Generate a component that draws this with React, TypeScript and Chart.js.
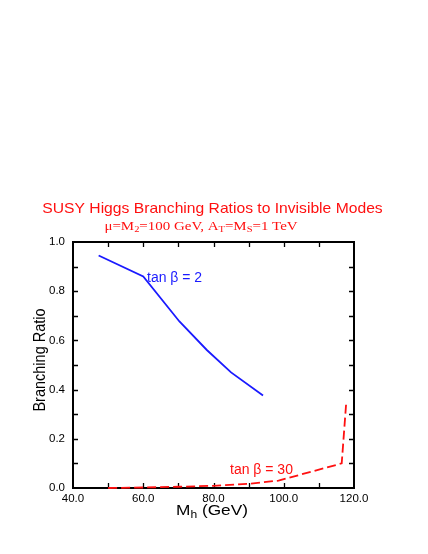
import React, { useEffect, useRef } from "react";
import { Chart, registerables } from "chart.js";

Chart.register(...registerables);

// ---- data ----
const blueMass = [47.3, 60.0, 70.3, 78.1, 85.0, 94.1];
const blueBR = [0.945, 0.86, 0.677, 0.561, 0.47, 0.376];
const redMass = [50, 60, 70, 80, 90, 98.5, 116.5, 117.8];
const redBR = [0.0, 0.002, 0.005, 0.009, 0.017, 0.03, 0.1, 0.35];

const xMin = 40, xMax = 120, xMajor = 20, xMinor = 10;
const yMin = 0, yMax = 1, yMajor = 0.2, yMinor = 0.1;

const titleText = "SUSY Higgs Branching Ratios to Invisible Modes";
const subtitleParts = [
  { t: "\u03bc=M" }, { t: "2", sub: true }, { t: "=100 GeV, A" }, { t: "T", sub: true },
  { t: "=M" }, { t: "S", sub: true }, { t: "=1 TeV" },
];
const xTitleParts = [{ t: "M" }, { t: "h", sub: true }, { t: " (GeV)" }];
const yTitle = "Branching Ratio";
const blueLabel = "tan \u03b2 = 2";
const redLabel = "tan \u03b2 = 30";

const RED = "#ff1010";
const BLUE = "#1a1aff";
const SANS = "'Liberation Sans', Arial, sans-serif";
const SERIF = "'Liberation Serif', 'Times New Roman', serif";

type Part = { t: string; sub?: boolean };

function drawRich(
  ctx: CanvasRenderingContext2D,
  parts: Part[],
  x: number,
  y: number,
  o: { size: number; family: string; color: string; sx?: number; align?: "left" | "center" }
) {
  ctx.save();
  ctx.translate(x, y);
  ctx.scale(o.sx ?? 1, 1);
  ctx.fillStyle = o.color;
  ctx.textBaseline = "alphabetic";
  ctx.textAlign = "left";
  const fontFor = (p: Part) => `${p.sub ? o.size * 0.7 : o.size}px ${o.family}`;
  let total = 0;
  for (const p of parts) {
    ctx.font = fontFor(p);
    total += ctx.measureText(p.t).width;
  }
  let cx = o.align === "center" ? -total / 2 : 0;
  for (const p of parts) {
    ctx.font = fontFor(p);
    ctx.fillText(p.t, cx, p.sub ? o.size * 0.22 : 0);
    cx += ctx.measureText(p.t).width;
  }
  ctx.restore();
}

const framePlugin = {
  id: "frameTicks",
  beforeDatasetsDraw(chart: any) {
    const { ctx, chartArea: a, scales } = chart;
    const xs = scales.x, ys = scales.y;
    ctx.save();
    ctx.strokeStyle = "#000";
    ctx.lineWidth = 2;
    ctx.strokeRect(a.left, a.top, a.right - a.left, a.bottom - a.top);
    ctx.lineWidth = 1.3;
    const len = 5;
    ctx.beginPath();
    for (let v = xMin + xMinor; v < xMax - 1e-9; v += xMinor) {
      const px = Math.round(xs.getPixelForValue(v)) + 0.5;
      ctx.moveTo(px, a.bottom); ctx.lineTo(px, a.bottom - len);
      ctx.moveTo(px, a.top); ctx.lineTo(px, a.top + len);
    }
    for (let v = yMin + yMinor; v < yMax - 1e-9; v += yMinor) {
      const py = Math.round(ys.getPixelForValue(v)) + 0.5;
      ctx.moveTo(a.left, py); ctx.lineTo(a.left + len, py);
      ctx.moveTo(a.right, py); ctx.lineTo(a.right - len, py);
    }
    ctx.stroke();
    ctx.restore();
  },
  afterDraw(chart: any) {
    const { ctx } = chart;
    // titles
    drawRich(ctx, [{ t: titleText }], 212.5, 212.5, { size: 14.5, family: SANS, color: RED, sx: 1.08, align: "center" });
    drawRich(ctx, subtitleParts, 201, 229.5, { size: 13, family: SERIF, color: RED, sx: 1.15, align: "center" });
    // axis titles
    drawRich(ctx, xTitleParts, 212, 515, { size: 15, family: SANS, color: "#000", sx: 1.15, align: "center" });
    ctx.save();
    ctx.translate(45, 360);
    ctx.rotate(-Math.PI / 2);
    ctx.scale(1, 1.2);
    ctx.font = `14.5px ${SANS}`;
    ctx.fillStyle = "#000";
    ctx.textAlign = "center";
    ctx.textBaseline = "alphabetic";
    ctx.fillText(yTitle, 0, 0);
    ctx.restore();
    // series labels
    drawRich(ctx, [{ t: blueLabel }], 147, 281.5, { size: 14, family: SANS, color: BLUE, sx: 1.0 });
    drawRich(ctx, [{ t: redLabel }], 230, 473.5, { size: 14, family: SANS, color: RED, sx: 1.0 });
  },
};

export default function App() {
  const ref = useRef<HTMLCanvasElement | null>(null);
  useEffect(() => {
    if (!ref.current) return;
    const chart = new Chart(ref.current, {
      type: "line",
      data: {
        datasets: [
          {
            data: blueMass.map((m, i) => ({ x: m, y: blueBR[i] })),
            borderColor: BLUE,
            borderWidth: 1.8,
            pointRadius: 0,
            fill: false,
            tension: 0,
          },
          {
            data: redMass.map((m, i) => ({ x: m, y: redBR[i] })),
            borderColor: RED,
            borderWidth: 1.8,
            borderDash: [9, 4],
            pointRadius: 0,
            fill: false,
            tension: 0,
            clip: false as any,
          },
        ],
      },
      options: {
        animation: false,
        responsive: false,
        devicePixelRatio: 1,
        layout: { padding: { top: 242, right: 74, left: 0, bottom: 0 } },
        plugins: { legend: { display: false }, tooltip: { enabled: false }, title: { display: false } },
        scales: {
          x: {
            type: "linear",
            min: xMin,
            max: xMax,
            grid: { display: false, drawTicks: false },
            border: { display: false },
            ticks: {
              stepSize: xMajor,
              color: "#000",
              padding: 4,
              font: { family: SANS, size: 11.5 },
              callback: (v: any) => Number(v).toFixed(1),
            },
            afterFit: (s: any) => { s.height = 66; },
          },
          y: {
            type: "linear",
            min: yMin,
            max: yMax,
            grid: { display: false, drawTicks: false },
            border: { display: false },
            ticks: {
              stepSize: yMajor,
              color: "#000",
              padding: 8,
              font: { family: SANS, size: 11.5 },
              callback: (v: any) => Number(v).toFixed(1),
            },
            afterFit: (s: any) => { s.width = 73; },
          },
        },
      },
      plugins: [framePlugin],
    });
    return () => chart.destroy();
  }, []);
  return (
    <div style={{ position: "absolute", left: 0, top: 0, width: 428, height: 554, background: "#fff" }}>
      <canvas ref={ref} width={428} height={554} style={{ display: "block", width: 428, height: 554 }} />
    </div>
  );
}
